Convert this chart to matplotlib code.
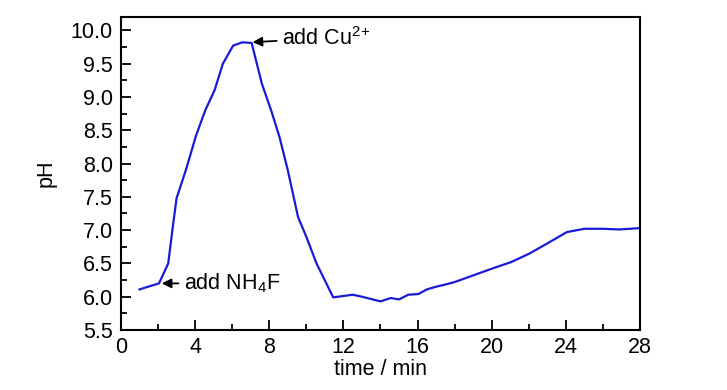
import matplotlib
matplotlib.use("Agg")
import matplotlib.pyplot as plt
from matplotlib.ticker import MultipleLocator, FormatStrFormatter

plt.rcParams['font.family'] = ['Liberation Sans', 'DejaVu Sans']
plt.rcParams['mathtext.fontset'] = 'custom'
plt.rcParams['mathtext.rm'] = 'Liberation Sans'

# time (min) and pH
time = [1.0, 2.05, 2.55, 2.75, 3.0, 3.5, 4.05, 4.55, 5.05, 5.5, 6.05, 6.55, 7.05,
        7.6, 8.1, 8.55, 9.0, 9.55, 10.0, 10.55, 11.45, 12.5, 13.0, 14.0, 14.55,
        15.0, 15.5, 16.05, 16.5, 17.0, 17.6, 18.0, 19.0, 20.1, 21.05, 22.05,
        23.0, 24.05, 25.0, 26.0, 26.9, 28.0]
ph = [6.11, 6.2, 6.5, 6.95, 7.48, 7.9, 8.42, 8.8, 9.1, 9.5, 9.77, 9.82, 9.81,
      9.2, 8.8, 8.4, 7.9, 7.2, 6.9, 6.5, 5.99, 6.03, 6.0, 5.93, 5.98,
      5.96, 6.03, 6.04, 6.11, 6.15, 6.19, 6.22, 6.32, 6.43, 6.52, 6.65,
      6.8, 6.97, 7.02, 7.02, 7.01, 7.03]

fig = plt.figure(figsize=(7.27, 3.90), dpi=100)
ax = fig.add_axes([0.1664, 0.1538, 0.7139, 0.8026])
ax.plot(time, ph, color='#1a1ad6', lw=1.6)

ax.set_xlim(0, 28)
ax.set_ylim(5.5, 10.2)
ax.xaxis.set_major_locator(MultipleLocator(4))
ax.xaxis.set_minor_locator(MultipleLocator(2))
ax.yaxis.set_major_locator(MultipleLocator(0.5))
ax.yaxis.set_minor_locator(MultipleLocator(0.25))
ax.yaxis.set_major_formatter(FormatStrFormatter('%.1f'))
ax.tick_params(which='both', direction='in', top=False, right=False, width=1.3, labelsize=15.5)
ax.tick_params(which='major', length=7)
ax.tick_params(which='minor', length=4)
ax.tick_params(axis='x', pad=5)
ax.tick_params(axis='y', pad=6)
for s in ax.spines.values():
    s.set_linewidth(1.5)

ax.set_xlabel('time / min', fontsize=15.5, labelpad=1)
ax.set_ylabel('pH', fontsize=15.5, labelpad=10)

arrow = dict(arrowstyle='-|>', color='black', lw=1.3, mutation_scale=14)
ax.annotate('add NH$_4$F', xy=(2.05, 6.2), xytext=(3.4, 6.2), fontsize=15.5,
            va='center', ha='left', arrowprops=arrow)
ax.annotate(r'add Cu$^{2\!+}$', xy=(6.95, 9.82), xytext=(8.7, 9.88), fontsize=15.5,
            va='center', ha='left', arrowprops=arrow)

fig.savefig('out.png', dpi=100)
